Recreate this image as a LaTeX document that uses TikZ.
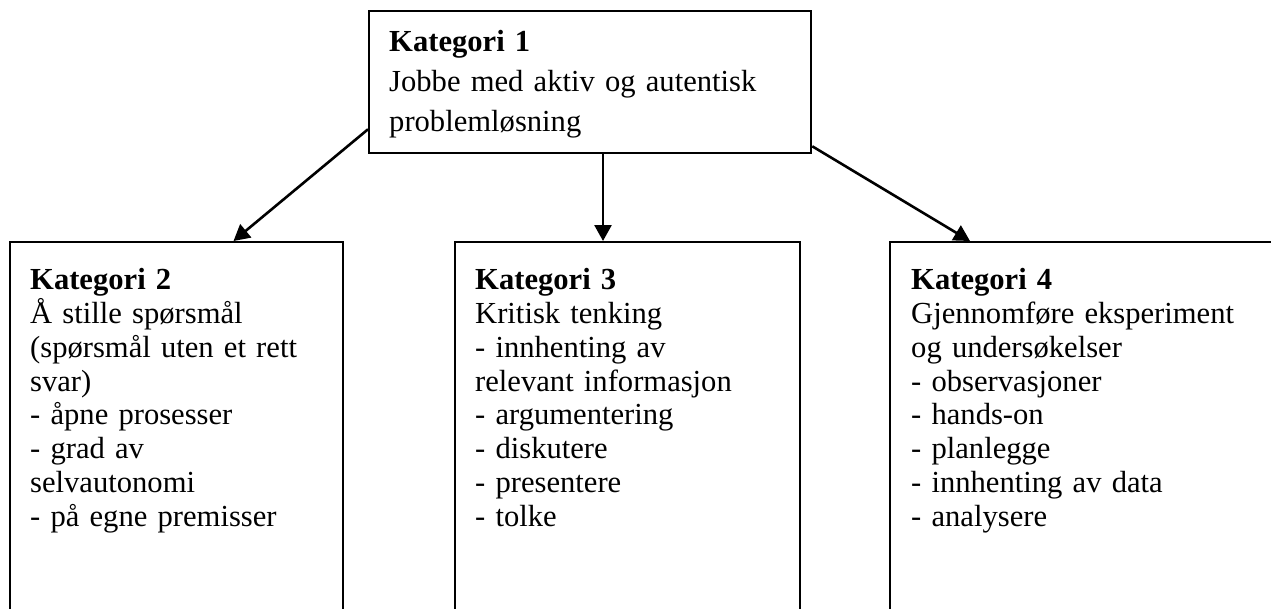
\documentclass[tikz,border=0pt]{standalone}
\usepackage{fontspec}
\setmainfont{Liberation Serif}
\usetikzlibrary{arrows.meta,calc}
\begin{document}
\begin{tikzpicture}[x=1pt,y=-1pt,
  catbox/.style={draw=black, line width=2.3pt, minimum width=#1, inner sep=0pt, anchor=north west},
  cattext/.style={anchor=base west, inner sep=0pt, text width=400pt, align=left,
    font=\fontsize{30.6}{33.9}\selectfont},
  toptext/.style={anchor=base west, inner sep=0pt, text width=420pt, align=left,
    font=\fontsize{30.6}{40}\selectfont},
  arr/.style={line width=2.6pt, -{Triangle[length=16pt,width=17pt]}}]
\useasboundingbox (0,0) rectangle (1271,608);
\clip (0,0) rectangle (1271,608);
% boxes
\node[catbox=442pt, minimum height=142pt] (k1) at (368,10) {};
\node[catbox=333pt, minimum height=460pt] (b2) at (8.5,241) {};
\node[catbox=345pt, minimum height=460pt] (b3) at (453.5,241) {};
\node[catbox=420pt, minimum height=460pt] (b4) at (889,241) {};
% texts
\node[toptext] (t1) at (389,51.7) {\textbf{Kategori 1}\\Jobbe med aktiv og autentisk\\problemløsning};
\node[cattext] (t2) at (30,289.3) {\textbf{Kategori 2}\\Å stille spørsmål\\(spørsmål uten et rett\\svar)\\- åpne prosesser\\- grad av\\selvautonomi\\- på egne premisser};
\node[cattext] (t3) at (475,289.3) {\textbf{Kategori 3}\\Kritisk tenking\\- innhenting av\\relevant informasjon\\- argumentering\\- diskutere\\- presentere\\- tolke};
\node[cattext] (t4) at (911,289.3) {\textbf{Kategori 4}\\Gjennomføre eksperiment\\og undersøkelser\\- observasjoner\\- hands-on\\- planlegge\\- innhenting av data\\- analysere};
% connectors
\coordinate (s2) at ([xshift=235pt]k1.south west);
\draw[arr] ([yshift=25pt]k1.south west) -- ([xshift=225pt]b2.north west);
\draw[arr] (s2) -- (s2 |- b3.north);
\draw[arr] ([yshift=8pt]k1.south east) -- ([xshift=81pt]b4.north west);
\end{tikzpicture}
\end{document}
